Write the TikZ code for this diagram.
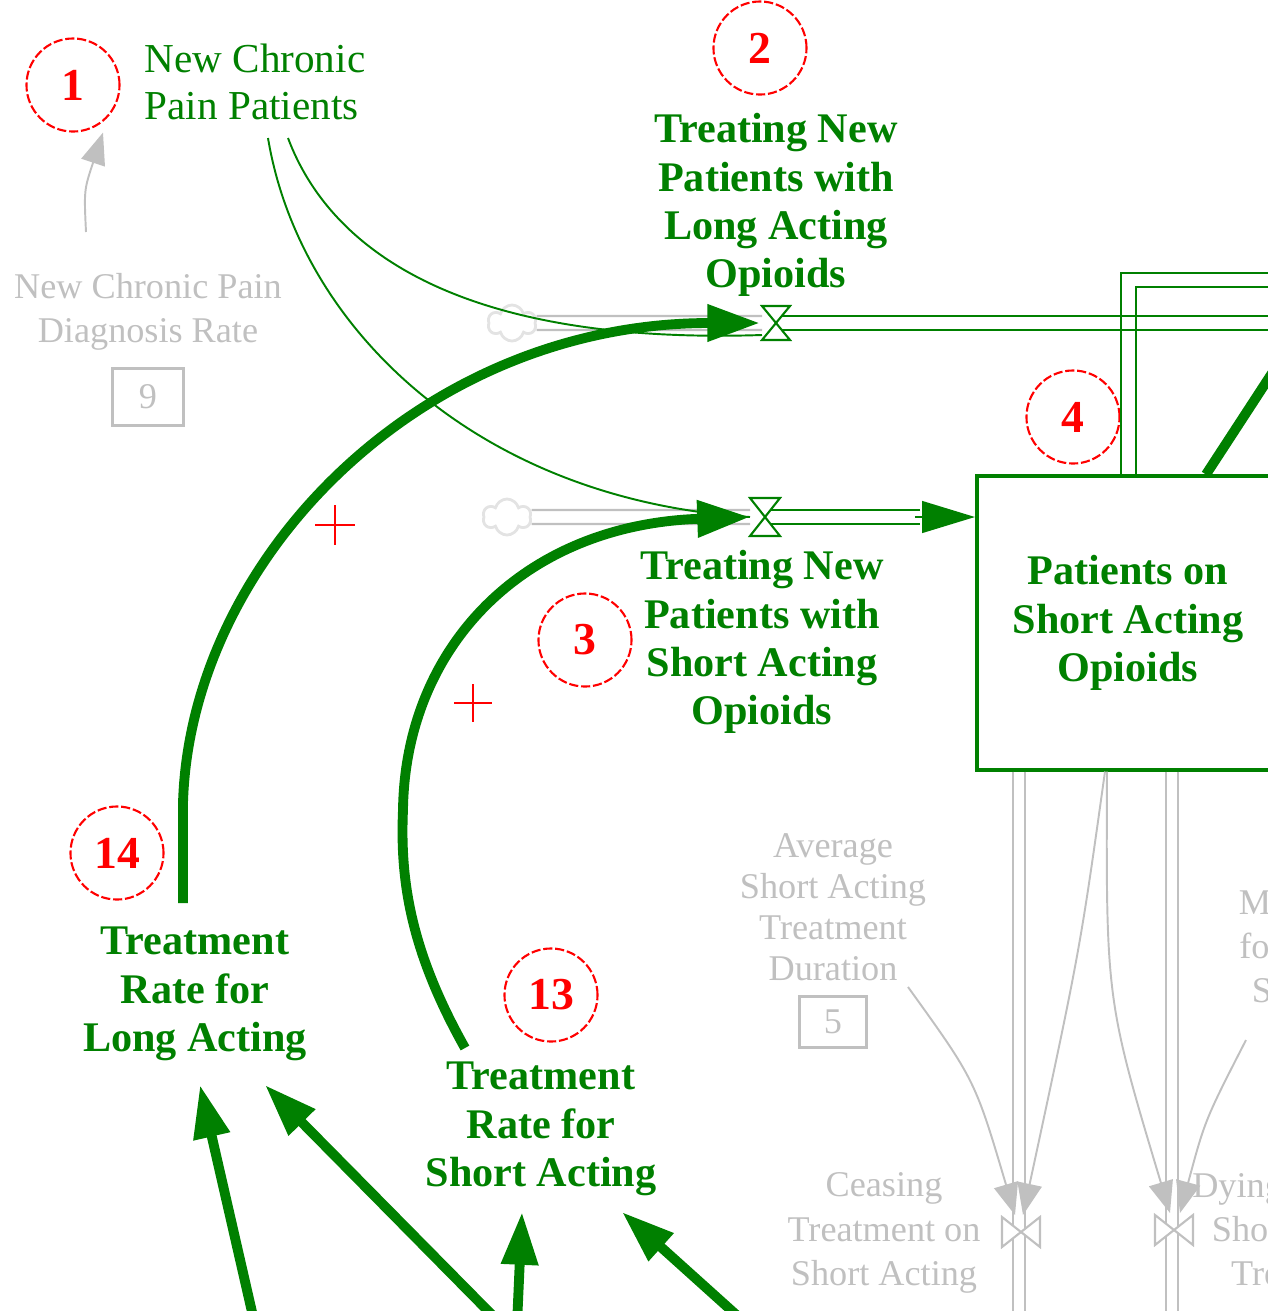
\documentclass[tikz,border=0pt]{standalone}
\usepackage{fontspec}
\setmainfont{Liberation Serif}
\usetikzlibrary{arrows.meta,calc,shapes.symbols}
\definecolor{simgreen}{RGB}{0,128,0}
\definecolor{simgray}{RGB}{192,192,192}
\definecolor{simred}{RGB}{255,0,0}
\tikzset{
  flow/.style={text=simgreen,font=\fontsize{12}{13.7}\selectfont\bfseries,align=center,inner sep=0pt},
  stocktxt/.style={text=simgreen,font=\fontsize{11.7}{13.4}\selectfont,align=left,inner sep=0pt},
  ghost/.style={text=simgray,font=\fontsize{10.3}{12.6}\selectfont,align=center,inner sep=0pt},
  tag/.style={circle,draw=simred,line width=0.6pt,dash pattern=on 2.6pt off 0.8pt,minimum size=0.93cm,inner sep=0pt,text=simred,font=\fontsize{13}{13}\selectfont\bfseries},
  stock/.style={flow,draw=simgreen,line width=1.1pt,minimum width=3.02cm,minimum height=2.93cm},
  constbox/.style={ghost,draw=simgray,line width=0.85pt,minimum width=0.7cm,minimum height=0.57cm},
  cloudy/.style={cloud,cloud puffs=6,aspect=1.3,draw=simgray!45,line width=0.8pt,minimum width=0.48cm,minimum height=0.36cm,inner sep=0pt},
  pipe/.style={draw=simgreen,line width=0.6pt},
  gpipe/.style={draw=simgray,line width=0.6pt},
  link/.style={draw=simgreen,line width=0.55pt},
  glink/.style={draw=simgray,line width=0.55pt,-{Triangle[length=9pt,width=7pt]}},
  rate/.style={draw=simgreen,line width=2.8pt,-{Triangle[length=15pt,width=10pt]}},
  plus/.style={draw=simred,line width=0.6pt}
}
\begin{document}
\begin{tikzpicture}[x=0.01cm,y=-0.01cm]
\useasboundingbox (0,0) rectangle (1268,1311);
\clip (0,0) rectangle (1268,1311);

% labels and tags
\node[tag] (t1) at (73,85) {1};
\node[tag] (t2) at (760,48) {2};
\node[tag] (t4) at (1073,417) {4};
\node[tag] (t3) at (585,640) {3};
\node[tag] (t14) at (117,853) {14};
\node[tag] (t13) at (551,995) {13};
\node[stocktxt] (ncp) at (255,82) {New Chronic\\Pain Patients};
\node[flow] (tl) at (776,205) {Treating New\\Patients with\\Long Acting\\Opioids};
\node[flow] (ts) at (762,642) {Treating New\\Patients with\\Short Acting\\Opioids};
\node[stock] (pso) at (1128,623) {Patients on\\Short Acting\\Opioids};
\node[flow] (rl) at (195,994) {Treatment\\Rate for\\Long Acting};
\node[flow] (rs) at (541,1129) {Treatment\\Rate for\\Short Acting};
\node[ghost] (ncpdr) at (148,312) {New Chronic Pain\\Diagnosis Rate};
\node[constbox] (cb9) at (148,397) {9};
\node[ghost,font=\fontsize{10.3}{11.7}\selectfont] (avg) at (833,907) {Average\\Short Acting\\Treatment\\Duration};
\node[constbox,minimum width=0.67cm,minimum height=0.51cm] (cb5) at (833,1022) {5};
\node[ghost] (ceas) at (884,1233) {Ceasing\\Treatment on\\Short Acting};
\node[ghost] (dying) at (1305,1229) {Dying while on\\Short Acting\\Treatment};
\node[ghost] (mort) at (1345,950) {Mortality Rate\\for Patients on\\Short Acting};

\node[cloudy] (c1) at (512,323) {};
\node[cloudy] (c2) at (507,517) {};
\coordinate (v1) at (776,323);
\coordinate (v2) at (765,517);
\coordinate (v3) at (1021,1232);
\coordinate (v4) at (1174,1230);
\coordinate (out1) at (1300,323);
\coordinate (out2) at (1300,280);
\coordinate (inA) at (255,1325);
\coordinate (inB) at (497,1320);
\coordinate (inC) at (517,1325);
\coordinate (inD) at (742,1320);
\coordinate (p1) at (335,525);
\coordinate (p2) at (473,703);

% pipes
\draw[gpipe] ($(c1.east)+(0,-7)$) -- ($(v1)+(-14,-7)$) ($(c1.east)+(0,7)$) -- ($(v1)+(-14,7)$);
\draw[gpipe] ($(c2.east)+(0,-7)$) -- ($(v2)+(-15,-7)$) ($(c2.east)+(0,7)$) -- ($(v2)+(-15,7)$);
\draw[pipe] ($(v1)+(0,-7)$) -- ($(out1)+(0,-7)$) ($(v1)+(0,7)$) -- ($(out1)+(0,7)$);
\draw[pipe] ($(v2)+(0,-7)$) -- ($(v2 -| pso.west)+(-55,-7)$) ($(v2)+(0,7)$) -- ($(v2 -| pso.west)+(-55,7)$);
\draw[pipe,-{Triangle[length=15pt,width=9pt]}] ($(v2 -| pso.west)+(-60,0)$) -- (v2 -| pso.west);
\draw[pipe] ($(pso.north west)+(146,0)$) |- ($(out2)+(0,-7)$);
\draw[pipe] ($(pso.north west)+(161,0)$) |- ($(out2)+(0,7)$);
\draw[simgreen,line width=2.8pt] ($(pso.north west)+(231,0)$) -- ++(90,-138);
\draw[gpipe] ($(pso.south west)+(38,0)$) -- ++(0,560) ($(pso.south west)+(50,0)$) -- ++(0,560);
\draw[gpipe] ($(pso.south west)+(191,0)$) -- ++(0,560) ($(pso.south west)+(203,0)$) -- ++(0,560);

% valves
\draw[pipe,fill=white] (v1) ++(-14,-17) -- ++(28,0) -- ++(-28,34) -- ++(28,0) -- cycle;
\draw[pipe,fill=white] (v2) ++(-15,-19) -- ++(30,0) -- ++(-30,38) -- ++(30,0) -- cycle;
\draw[gpipe,fill=white] (v3) ++(-19,-15) -- ++(0,30) -- ++(38,-30) -- ++(0,30) -- cycle;
\draw[gpipe,fill=white] (v4) ++(-19,-15) -- ++(0,30) -- ++(38,-30) -- ++(0,30) -- cycle;

% links
\draw[link] ($(ncp)+(33,56)$) .. controls (330,250) and (460,345) .. ($(v1)+(-14,12)$);
\draw[link] ($(ncp)+(13,56)$) .. controls (300,330) and (480,500) .. ($(v2)+(-15,0)$);
\draw[glink] ($(ncpdr)+(-62,-80)$) .. controls (84,190) .. ($(t1.south)+(30,0)$);
\draw[glink] ($(pso.south)+(-23,0)$) .. controls (1080,950) .. ($(v3)+(2,-17)$);
\draw[glink] ($(pso.south)+(-21,0)$) .. controls (1106,1000) .. ($(v4)+(-4,-17)$);
\draw[glink] ($(cb5.north east)+(40,-8)$) .. controls (975,1080) .. ($(v3)+(-6,-17)$);
\draw[glink] ($(mort)+(-99,90)$) .. controls (1205,1120) .. ($(v4)+(6,-17)$);

% rates
\draw[rate] ($(rl)+(-12,-91)$) -- ++(0,-100) .. controls (190,560) and (420,323) .. ($(v1)+(-16,0)$);
\draw[rate] ($(rs)+(-76,-81)$) .. controls (410,950) and (400,880) .. (403,810) .. controls (405,650) and (520,525) .. ($(v2)+(-15,0)$);
\draw[rate] (inA) -- ($(rl)+(5,91)$);
\draw[rate] (inB) -- ($(rl)+(70,91)$);
\draw[rate] (inC) -- ($(rs)+(-19,83)$);
\draw[rate] (inD) -- ($(rs)+(81,83)$);

\draw[plus] (p1) ++(-20,0) -- ++(40,0) (p1) ++(0,-20) -- ++(0,40);
\draw[plus] (p2) ++(-19,0) -- ++(38,0) (p2) ++(0,-19) -- ++(0,38);
\end{tikzpicture}
\end{document}
